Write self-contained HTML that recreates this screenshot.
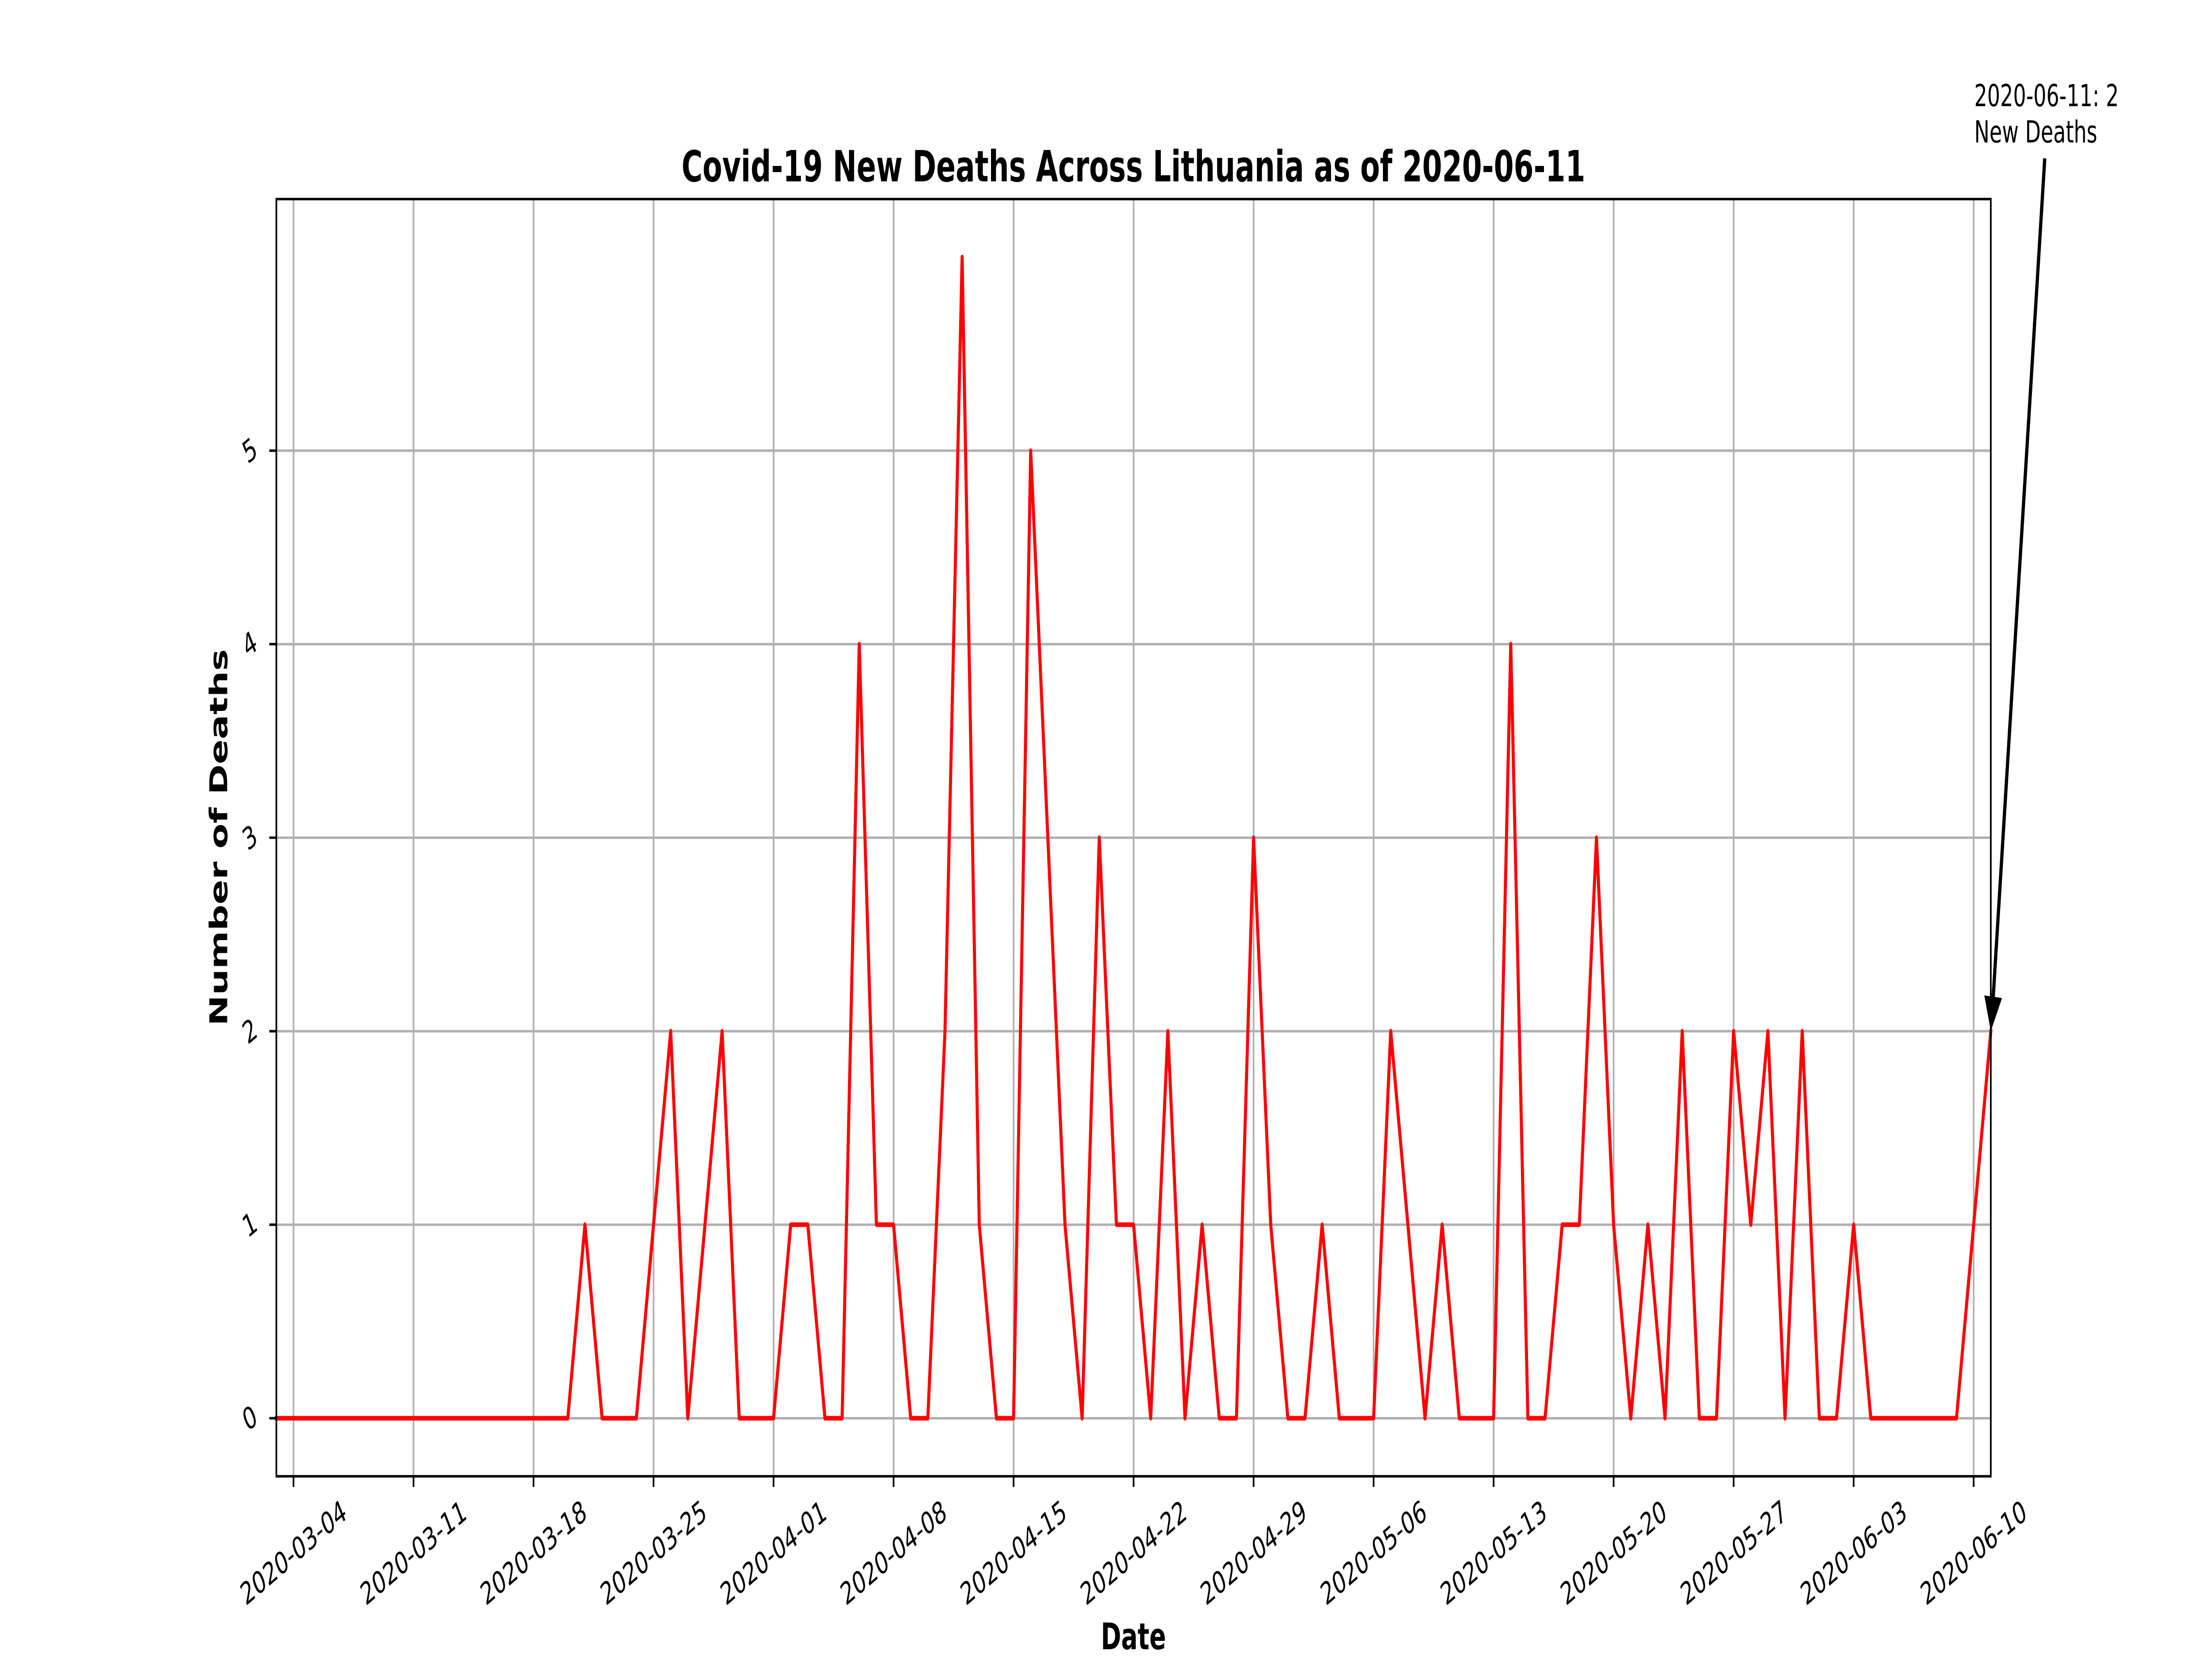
<!DOCTYPE html>
<html><head><meta charset="utf-8"><style>
html,body{margin:0;padding:0;background:#fff;width:100%;height:100%;overflow:hidden;}
svg{display:block;width:100%;height:100%;font-family:"DejaVu Sans","Liberation Sans",sans-serif;}
</style></head><body>
<svg id="chart" viewBox="0 0 7500 3750" preserveAspectRatio="none" xmlns="http://www.w3.org/2000/svg">
<rect width="7500" height="3750" fill="#fff"/>
<g id="grid"></g>
<g id="series"></g>
<rect x="937" y="450" width="5813" height="2887" fill="none" stroke="#000" stroke-width="5.6"/>
<g id="ticks"></g>
<text x="3843" y="410" text-anchor="middle" font-size="97" font-weight="bold">Covid-19 New Deaths Across Lithuania as of 2020-06-11</text>
<text x="3843" y="3728" text-anchor="middle" font-size="83" font-weight="bold">Date</text>
<text x="0" y="0" transform="translate(770,1893) rotate(-90)" text-anchor="middle" font-size="83" font-weight="bold">Number of Deaths</text>
<g>
<text x="6694" y="240" font-size="69">2020-06-11: 2</text>
<text x="6694" y="322" font-size="69">New Deaths</text>
<line x1="6933" y1="358" x2="6758" y2="2255" stroke="#000" stroke-width="11"/>
<polygon points="6750,2331 6728,2250 6788,2256" fill="#000"/>
</g>
</svg>
<script>
const startDate = "2020-03-03";
const deaths = [0,0,0,0,0,0,0,0,0,0,0,0,0,0,0,0,0,0,1,0,0,0,1,2,0,1,2,0,0,0,1,1,0,0,4,1,1,0,0,2,6,1,0,0,5,3,1,0,3,1,1,0,2,0,1,0,0,3,1,0,0,1,0,0,0,2,1,0,1,0,0,0,4,0,0,1,1,3,1,0,1,0,2,0,0,2,1,2,0,2,0,0,1,0,0,0,0,0,0,1,2];
const xTickLabels = ["2020-03-04","2020-03-11","2020-03-18","2020-03-25","2020-04-01","2020-04-08","2020-04-15","2020-04-22","2020-04-29","2020-05-06","2020-05-13","2020-05-20","2020-05-27","2020-06-03","2020-06-10"];
const yTickValues = [0,1,2,3,4,5];

const NS = "http://www.w3.org/2000/svg";
const L = 937, R = 6750, T = 450, B = 3337;
const yMin = -0.3, yMax = 6.3;
const day0 = Date.parse(startDate + "T00:00:00Z");
const nDays = deaths.length - 1;
function dayIndex(s){ return (Date.parse(s + "T00:00:00Z") - day0) / 86400000; }
function xScale(i){ return L + (R - L) * i / nDays; }
function yScale(v){ return B - (B - T) * (v - yMin) / (yMax - yMin); }

const grid = document.getElementById('grid');
const ticks = document.getElementById('ticks');
const series = document.getElementById('series');
function mk(tag, attrs, parent){ const e = document.createElementNS(NS, tag); for (const k in attrs) e.setAttribute(k, attrs[k]); parent.appendChild(e); return e; }

xTickLabels.forEach(lab => {
  const x = xScale(dayIndex(lab));
  const g = mk('line', {x1:x, x2:x, y1:T, y2:B, stroke:'#b0b0b0', 'stroke-width':5.6}, grid);
  
  
  const t = mk('line', {x1:x, x2:x, y1:B, y2:B+24, stroke:'#000', 'stroke-width':5.6}, ticks);
  
  
  const tx = mk('text', {x:0, y:0, 'text-anchor':'middle', 'dominant-baseline':'central', 'font-size':69, transform:'translate(' + x + ',' + (B + 48 + 125) + ') rotate(-30)'}, ticks);
  tx.textContent = lab;
  
  
});
yTickValues.forEach(v => {
  const y = yScale(v);
  const g = mk('line', {x1:L, x2:R, y1:y, y2:y, stroke:'#b0b0b0', 'stroke-width':5.6}, grid);
  
  
  const t = mk('line', {x1:L-24, x2:L, y1:y, y2:y, stroke:'#000', 'stroke-width':5.6}, ticks);
  
  
  const tx = mk('text', {x:0, y:0, 'text-anchor':'middle', 'dominant-baseline':'central', 'font-size':69, transform:'translate(' + (L - 48 - 42) + ',' + y + ') rotate(-30)'}, ticks);
  tx.textContent = String(v);
  
  
});
const pts = deaths.map((v, i) => xScale(i).toFixed(1) + ',' + yScale(v).toFixed(1)).join(' ');
const line = mk('polyline', {points:pts, fill:'none', stroke:'#ff0000', 'stroke-width':10.4, 'stroke-linejoin':'round', 'stroke-linecap':'square'}, series);


</script>
</body></html>
